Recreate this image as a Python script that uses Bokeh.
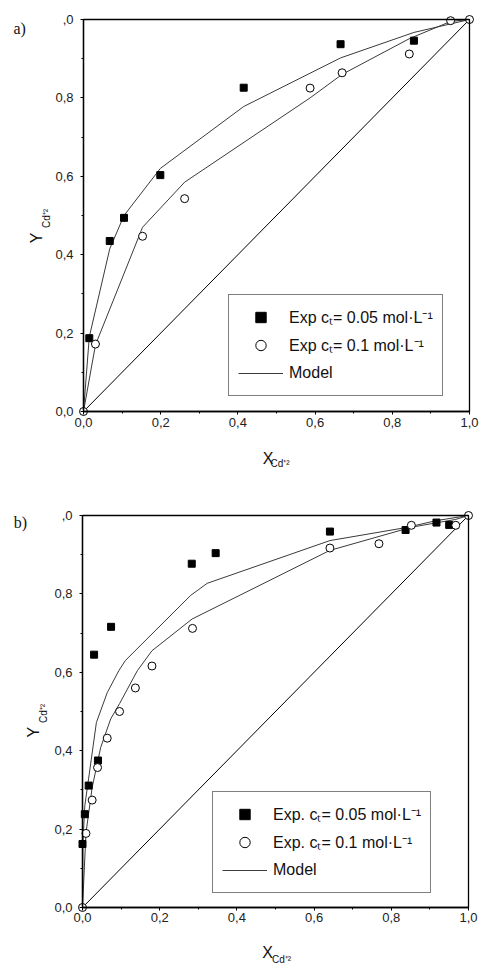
import math
from bokeh.plotting import figure
from bokeh.models import FixedTicker, Legend, LegendItem, Label, BoxAnnotation
from bokeh.layouts import column
from bokeh.embed import file_html
from bokeh.resources import INLINE

# ---------------- data: panel a ----------------
a_sq_x = [0.015, 0.068, 0.105, 0.199, 0.415, 0.666, 0.856]
a_sq_y = [0.187, 0.435, 0.494, 0.603, 0.826, 0.937, 0.946]
a_ci_x = [0.0, 0.031, 0.153, 0.262, 0.587, 0.670, 0.844, 0.951, 1.0]
a_ci_y = [0.0, 0.172, 0.447, 0.543, 0.825, 0.864, 0.912, 0.997, 1.0]
a_model1_x = [0.0, 0.015, 0.068, 0.105, 0.199, 0.415, 0.666, 0.856, 1.0]
a_model1_y = [0.0, 0.190, 0.415, 0.500, 0.620, 0.778, 0.902, 0.967, 1.0]
a_model2_x = [0.0, 0.031, 0.153, 0.262, 0.587, 0.670, 0.844, 0.951, 1.0]
a_model2_y = [0.0, 0.170, 0.470, 0.585, 0.800, 0.860, 0.951, 0.995, 1.0]

# ---------------- data: panel b ----------------
b_sq_x = [0.0, 0.006, 0.016, 0.040, 0.030, 0.074, 0.283, 0.345, 0.641, 0.837, 0.917, 0.950]
b_sq_y = [0.162, 0.238, 0.311, 0.375, 0.645, 0.716, 0.877, 0.904, 0.959, 0.963, 0.982, 0.976]
b_ci_x = [0.0, 0.009, 0.025, 0.039, 0.064, 0.096, 0.137, 0.180, 0.285, 0.641, 0.768, 0.852, 0.967, 1.0]
b_ci_y = [0.0, 0.189, 0.274, 0.357, 0.432, 0.500, 0.560, 0.616, 0.712, 0.917, 0.928, 0.975, 0.975, 1.0]
b_model1_x = [0.0, 0.001, 0.006, 0.016, 0.036, 0.064, 0.094, 0.111, 0.167, 0.280, 0.323, 0.641, 0.837, 0.917, 1.0]
b_model1_y = [0.0, 0.162, 0.260, 0.330, 0.472, 0.548, 0.604, 0.630, 0.685, 0.796, 0.827, 0.936, 0.969, 0.987, 1.0]
b_model2_x = [0.0, 0.009, 0.025, 0.047, 0.073, 0.096, 0.142, 0.180, 0.284, 0.641, 0.852, 0.967, 1.0]
b_model2_y = [0.0, 0.190, 0.306, 0.408, 0.481, 0.520, 0.604, 0.655, 0.736, 0.911, 0.970, 0.990, 1.0]

diag_x = [0.0, 1.0]
diag_y = [0.0, 1.0]

major_ticks = [0.0, 0.2, 0.4, 0.6, 0.8, 1.0]
minor_ticks = [0.1, 0.3, 0.5, 0.7, 0.9]
x_tick_labels = ["0,0", "0,2", "0,4", "0,6", "0,8", "1,0"]
y_tick_labels = ["0,0", "0,2", "0,4", "0,6", "0,8", ",0"]

a_legend_labels = ["Exp c\u209c= 0.05 mol\u00b7L\u207b\u00b9", "Exp c\u209c= 0.1 mol\u00b7L\u207b\u00b9", "Model"]
b_legend_labels = ["Exp. c\u209c= 0.05 mol\u00b7L\u207b\u00b9", "Exp. c\u209c= 0.1 mol\u00b7L\u207b\u00b9", "Model"]
axis_sym_x = "X"
axis_sym_y = "Y"
axis_sub = "Cd\u207a\u00b2"

SANS = "Liberation Sans"
SERIF = "Liberation Serif"
LINE_COL = "#3a3a3a"


def lab(text, pos, font, size, angle=0.0):
    return Label(x=pos[0], y=pos[1], text=text, text_font=font, text_font_size=size,
                 text_align="center", text_baseline="middle", angle=angle,
                 text_color="#111111")


def make_panel(height, xr, yr, sq_x, sq_y, ci_x, ci_y, m1x, m1y, m2x, m2y,
               leg_labels, leg_loc, tag, tag_pos, y_pos, ysub_pos, x_pos, xsub_pos):
    # the frame fills the whole canvas; the 0..1 box is drawn as an annotation
    p = figure(width=479, height=height, output_backend="svg", toolbar_location=None,
               x_range=xr, y_range=yr,
               min_border_left=0, min_border_top=0, min_border_right=0, min_border_bottom=0)
    p.background_fill_color = "white"
    p.border_fill_color = "white"
    p.outline_line_color = None
    p.xgrid.visible = False
    p.ygrid.visible = False
    for ax, labels in ((p.xaxis[0], x_tick_labels), (p.yaxis[0], y_tick_labels)):
        ax.fixed_location = 0
        ax.bounds = (0, 1)
        ax.ticker = FixedTicker(ticks=major_ticks, minor_ticks=minor_ticks)
        ax.major_label_overrides = {t: l for t, l in zip(major_ticks, labels)}
        ax.major_label_text_font = SANS
        ax.major_label_text_font_size = "13px"
        ax.major_label_text_color = "#222222"
        ax.axis_line_color = "black"
        ax.axis_line_width = 1.3
        ax.major_tick_in = 0
        ax.major_tick_out = 3
        ax.minor_tick_in = 0
        ax.minor_tick_out = 2
        ax.major_tick_line_color = "black"
        ax.minor_tick_line_color = "black"
    p.xaxis[0].major_label_standoff = 3
    p.yaxis[0].major_label_standoff = 7

    p.add_layout(BoxAnnotation(left=0, right=1, bottom=0, top=1,
                               fill_color=None, fill_alpha=0,
                               line_color="black", line_alpha=1.0, line_width=1.3))

    p.line(diag_x, diag_y, line_color="black", line_width=1)
    r_m1 = p.line(m1x, m1y, line_color=LINE_COL, line_width=1)
    p.line(m2x, m2y, line_color=LINE_COL, line_width=1)
    r_sq = p.scatter(sq_x, sq_y, marker="square", size=7, fill_color="black", line_color="black")
    r_ci = p.scatter(ci_x, ci_y, marker="circle", size=8, fill_color="white", line_color="black", line_width=1)

    legend = Legend(items=[LegendItem(label=leg_labels[0], renderers=[r_sq]),
                           LegendItem(label=leg_labels[1], renderers=[r_ci]),
                           LegendItem(label=leg_labels[2], renderers=[r_m1])],
                    location=leg_loc,
                    label_text_font=SANS, label_text_font_size="16px",
                    label_text_color="#111111",
                    glyph_width=45, glyph_height=26, label_height=26, label_standoff=6,
                    spacing=2, padding=9, margin=0,
                    border_line_color="black", border_line_width=1.3,
                    background_fill_color="white", background_fill_alpha=1.0)
    p.add_layout(legend, "center")

    p.add_layout(lab(tag, tag_pos, SERIF, "16px"))
    p.add_layout(lab(axis_sym_y, y_pos, SANS, "16px", math.pi / 2))
    p.add_layout(lab(axis_sub, ysub_pos, SANS, "10px", math.pi / 2))
    p.add_layout(lab(axis_sym_x, x_pos, SANS, "16px"))
    p.add_layout(lab(axis_sub, xsub_pos, SANS, "10px"))
    return p


pa = make_panel(470, (-0.21503, 1.02591), (-0.15051, 1.04847),
                a_sq_x, a_sq_y, a_ci_x, a_ci_y,
                a_model1_x, a_model1_y, a_model2_x, a_model2_y,
                a_legend_labels, (228, 74), "a)",
                (-0.1653, 0.9763), (-0.1218, 0.4426), (-0.0964, 0.4923),
                (0.478, -0.1194), (0.5091, -0.1339))
pb = make_panel(495, (-0.21244, 1.02850), (-0.14796, 1.11480),
                b_sq_x, b_sq_y, b_ci_x, b_ci_y,
                b_model1_x, b_model1_y, b_model2_x, b_model2_y,
                b_legend_labels, (212, 72), "b)",
                (-0.1606, 0.9809), (-0.1277, 0.4472), (-0.1005, 0.4949),
                (0.4793, -0.1148), (0.5155, -0.1314))

layout = column(pa, pb, spacing=0)
open("out.html", "w").write(file_html(layout, INLINE))
